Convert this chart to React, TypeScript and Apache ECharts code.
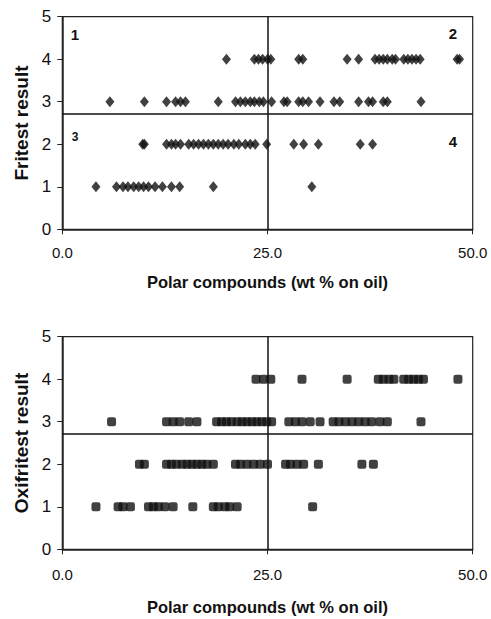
import React, { useEffect, useRef } from "react";
import * as echarts from "echarts";

// Fritest (top panel) — x = polar compounds, grouped by result level
const friX4 = [20.0, 23.4, 23.9, 24.4, 25.0, 25.4, 28.8, 29.3, 34.7, 36.1, 38.1, 38.6, 39.1, 39.6, 40.2, 40.6, 41.6, 42.1, 42.6, 43.1, 43.6, 48.1, 48.4];
const friX3 = [5.8, 10.0, 12.7, 13.8, 14.4, 15.0, 19.0, 21.1, 21.7, 22.3, 22.9, 23.4, 24.0, 24.5, 25.5, 27.0, 27.4, 28.8, 29.3, 30.0, 31.4, 33.1, 33.8, 36.1, 37.3, 37.8, 39.1, 39.6, 43.7];
const friX2 = [9.8, 10.0, 12.7, 13.3, 13.8, 14.4, 15.4, 16.0, 16.6, 17.2, 17.8, 18.4, 19.0, 19.6, 20.2, 20.9, 21.5, 22.3, 22.9, 23.5, 24.9, 28.2, 29.4, 31.2, 36.3, 37.8];
const friX1 = [4.1, 6.6, 7.4, 8.0, 8.7, 9.3, 9.9, 10.5, 11.3, 12.2, 13.3, 14.3, 18.4, 30.4];

// Oxifritest (bottom panel)
const oxiX4 = [23.6, 24.5, 25.4, 29.2, 34.7, 38.5, 39.1, 39.8, 40.4, 41.6, 42.2, 42.8, 43.4, 44.0, 48.2];
const oxiX3 = [6.0, 12.7, 13.5, 14.3, 15.4, 16.4, 18.8, 19.4, 20.0, 20.6, 21.3, 21.9, 22.5, 23.1, 23.7, 24.3, 24.9, 25.5, 27.6, 28.4, 29.2, 30.2, 31.4, 33.0, 33.7, 34.5, 35.3, 36.1, 36.9, 37.7, 38.7, 39.6, 43.7];
const oxiX2 = [9.4, 10.0, 12.7, 13.3, 13.9, 14.6, 15.2, 15.8, 16.4, 17.0, 17.6, 18.4, 21.1, 21.7, 22.5, 23.3, 24.1, 25.0, 27.2, 27.8, 28.6, 29.4, 31.2, 36.5, 37.9];
const oxiX1 = [4.1, 6.8, 7.4, 8.3, 10.5, 11.1, 11.7, 12.5, 13.5, 15.9, 18.4, 19.0, 19.8, 20.4, 21.3, 30.5];

const xTicks = [0, 25, 50];
const yLevels = [0, 1, 2, 3, 4, 5];
const splitX = 25;
const splitY = 2.72;
const quadrantLabels = ["1", "2", "3", "4"];

const xTitle = "Polar compounds (wt % on oil)";
const yTitles = ["Fritest result", "Oxifritest result"];

const FONT = "'Liberation Sans', Arial, sans-serif";

function pts(xs: number[], y: number) {
  return xs.map((x) => [x, y]);
}

export default function App() {
  const ref = useRef<HTMLDivElement>(null);
  useEffect(() => {
    if (!ref.current) return;
    const chart = echarts.init(ref.current, null, { renderer: "svg" });
    const gridTops = [16.7, 336.7];
    const labelMargins = [16, 18];
    const nameGaps = [44, 49];
    const grids = gridTops.map((t) => ({
      left: 62.3,
      top: t,
      width: 410.4,
      height: 212.6,
      show: true,
      borderColor: "#222",
      borderWidth: 1.2,
      backgroundColor: "transparent",
    }));
    const xAxes = [0, 1].map((i) => ({
      type: "value",
      gridIndex: i,
      min: 0,
      max: 50,
      interval: 25,
      name: xTitle,
      nameLocation: "middle",
      nameGap: nameGaps[i],
      nameTextStyle: { fontFamily: FONT, fontWeight: "bold", fontSize: 16.5, color: "#111" },
      axisLine: { show: true, lineStyle: { color: "#222", width: 1.5 } },
      axisTick: { show: true, length: 5, lineStyle: { color: "#222" } },
      axisLabel: {
        fontFamily: FONT,
        fontSize: 15,
        color: "#111",
        margin: labelMargins[i],
        formatter: (v: number) => (xTicks.includes(v) ? v.toFixed(1) : ""),
      },
      splitLine: { show: false },
    }));
    const yAxes = [0, 1].map((i) => ({
      type: "value",
      gridIndex: i,
      min: yLevels[0],
      max: yLevels[yLevels.length - 1],
      interval: 1,
      name: yTitles[i],
      nameLocation: "middle",
      nameGap: 30,
      nameRotate: 90,
      nameTextStyle: { fontFamily: FONT, fontWeight: "bold", fontSize: 19, color: "#111" },
      axisLine: { show: true, lineStyle: { color: "#222", width: 1.5 } },
      axisTick: { show: true, length: 5, lineStyle: { color: "#222" } },
      axisLabel: { fontFamily: FONT, fontSize: 17, color: "#111", margin: 11 },
      splitLine: { show: false },
    }));
    const dividers = {
      silent: true,
      symbol: "none",
      label: { show: false },
      lineStyle: { color: "#111", width: 1.5, type: "solid" },
      data: [{ xAxis: splitX }, { yAxis: splitY }],
    };
    const top = [friX1, friX2, friX3, friX4];
    const bot = [oxiX1, oxiX2, oxiX3, oxiX4];
    const series: any[] = [];
    top.forEach((xs, k) => {
      series.push({
        type: "scatter",
        xAxisIndex: 0,
        yAxisIndex: 0,
        symbol: "diamond",
        symbolSize: [9, 11],
        itemStyle: { color: "#111" },
        data: pts(xs, k + 1),
        markLine: k === 0 ? dividers : undefined,
      });
    });
    bot.forEach((xs, k) => {
      series.push({
        type: "scatter",
        xAxisIndex: 1,
        yAxisIndex: 1,
        symbol: "roundRect",
        symbolSize: [9, 9],
        itemStyle: { color: "#111" },
        data: pts(xs, k + 1),
        markLine: k === 0 ? dividers : undefined,
      });
    });
    const qpos = [
      [75, 34],
      [453, 33],
      [75, 137],
      [453, 141],
    ];
    chart.setOption({
      animation: false,
      grid: grids,
      xAxis: xAxes,
      yAxis: yAxes,
      series,
      graphic: quadrantLabels.map((t, i) => ({
        type: "text",
        x: qpos[i][0],
        y: qpos[i][1],
        style: {
          text: t,
          fontFamily: FONT,
          fontWeight: "bold",
          fontSize: i === 2 ? 12 : 15,
          fill: "#111",
          align: "center",
          verticalAlign: "middle",
        },
      })),
    });
    return () => chart.dispose();
  }, []);
  return (
    <div
      ref={ref}
      style={{ position: "absolute", left: 0, top: 0, width: 491, height: 619, background: "#fff" }}
    />
  );
}
